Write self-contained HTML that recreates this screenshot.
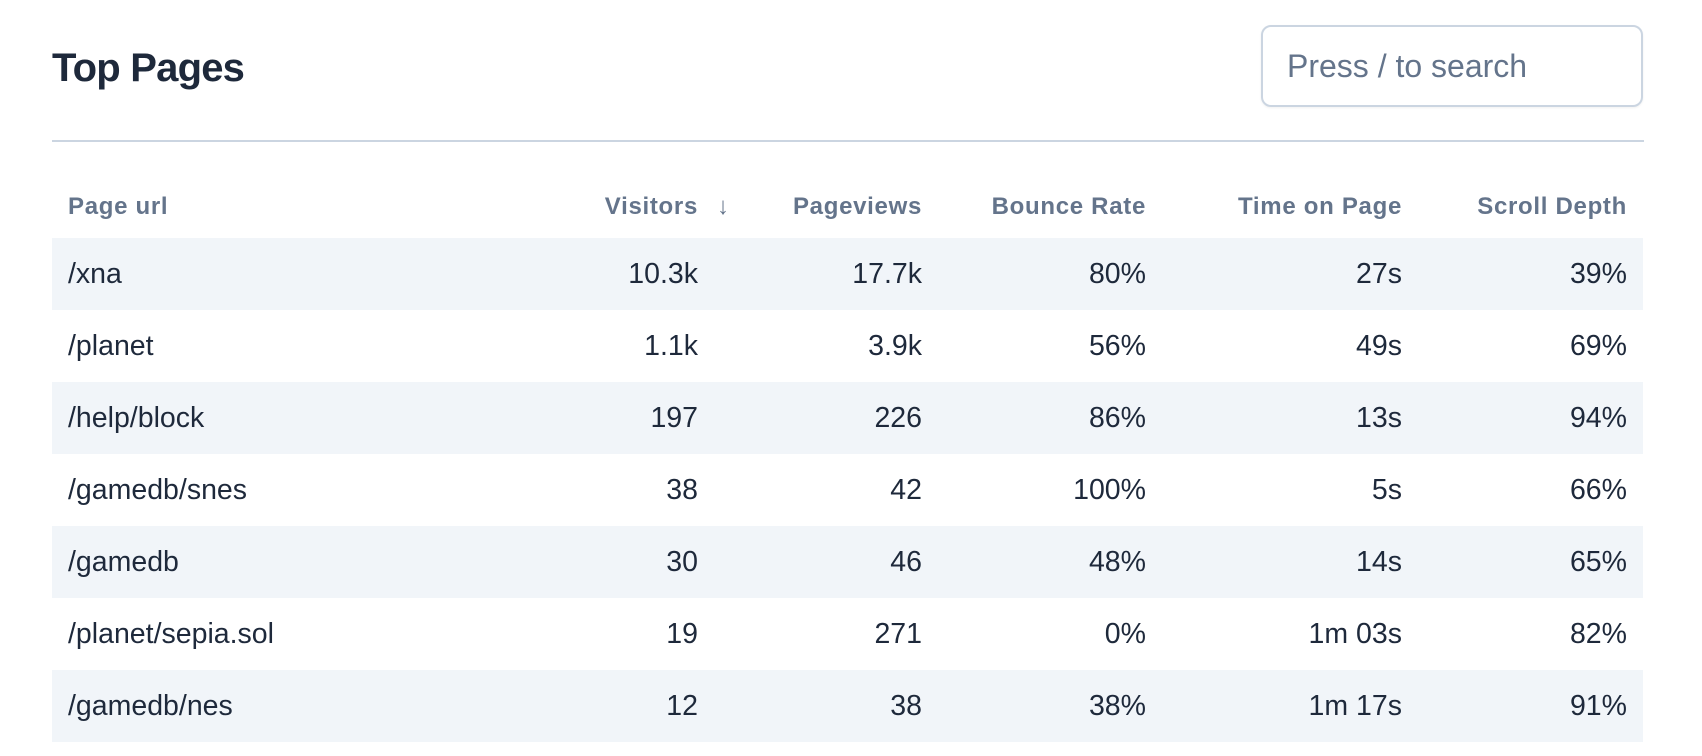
<!DOCTYPE html>
<html><head><meta charset="utf-8"><style>
*{margin:0;padding:0;box-sizing:border-box}
body{width:1702px;height:756px;background:#fff;font-family:"Liberation Sans",sans-serif;position:relative;overflow:hidden;color:#1e293b}
.title{position:absolute;left:52px;top:42px;font-size:40px;font-weight:bold;letter-spacing:-0.8px;line-height:52px;color:#1e293b}
.search{position:absolute;left:1261px;top:25px;width:382px;height:82px;border:2px solid #cbd5e1;border-radius:10px;box-shadow:0 1px 2px rgba(0,0,0,0.06)}
.search span{position:absolute;left:24px;top:21px;font-size:32px;line-height:36px;color:#64748b}
.sep{position:absolute;left:52px;top:140px;width:1592px;height:2px;background:#cbd5e1}
.hdr,.row{position:absolute;left:52px;width:1591px}
.hdr{top:190px;height:34px;font-size:24px;font-weight:bold;letter-spacing:0.7px;color:#64748b;line-height:34px}
.row{height:72px;font-size:28.5px;line-height:72px}
.row.g{background:#f1f5f9}
.c{position:absolute;white-space:nowrap}
.c0{left:16px}
.c1{right:calc(1591px - 646px)}
.c2{right:calc(1591px - 870px)}
.c3{right:calc(1591px - 1094px)}
.c4{right:calc(1591px - 1350px)}
.c5{right:calc(1591px - 1575px)}
.arrow{position:absolute;left:665px;top:0;font-weight:bold}
</style></head><body>
<div class="title">Top Pages</div>
<div class="search"><span>Press / to search</span></div>
<div class="sep"></div>
<div class="hdr">
<span class="c c0">Page url</span>
<span class="c c1">Visitors</span><span class="arrow">↓</span>
<span class="c c2">Pageviews</span>
<span class="c c3">Bounce Rate</span>
<span class="c c4">Time on Page</span>
<span class="c c5">Scroll Depth</span>
</div>
<div class="row g" style="top:238px"><span class="c c0">/xna</span><span class="c c1">10.3k</span><span class="c c2">17.7k</span><span class="c c3">80%</span><span class="c c4">27s</span><span class="c c5">39%</span></div>
<div class="row" style="top:310px"><span class="c c0">/planet</span><span class="c c1">1.1k</span><span class="c c2">3.9k</span><span class="c c3">56%</span><span class="c c4">49s</span><span class="c c5">69%</span></div>
<div class="row g" style="top:382px"><span class="c c0">/help/block</span><span class="c c1">197</span><span class="c c2">226</span><span class="c c3">86%</span><span class="c c4">13s</span><span class="c c5">94%</span></div>
<div class="row" style="top:454px"><span class="c c0">/gamedb/snes</span><span class="c c1">38</span><span class="c c2">42</span><span class="c c3">100%</span><span class="c c4">5s</span><span class="c c5">66%</span></div>
<div class="row g" style="top:526px"><span class="c c0">/gamedb</span><span class="c c1">30</span><span class="c c2">46</span><span class="c c3">48%</span><span class="c c4">14s</span><span class="c c5">65%</span></div>
<div class="row" style="top:598px"><span class="c c0">/planet/sepia.sol</span><span class="c c1">19</span><span class="c c2">271</span><span class="c c3">0%</span><span class="c c4">1m 03s</span><span class="c c5">82%</span></div>
<div class="row g" style="top:670px"><span class="c c0">/gamedb/nes</span><span class="c c1">12</span><span class="c c2">38</span><span class="c c3">38%</span><span class="c c4">1m 17s</span><span class="c c5">91%</span></div>
</body></html>
